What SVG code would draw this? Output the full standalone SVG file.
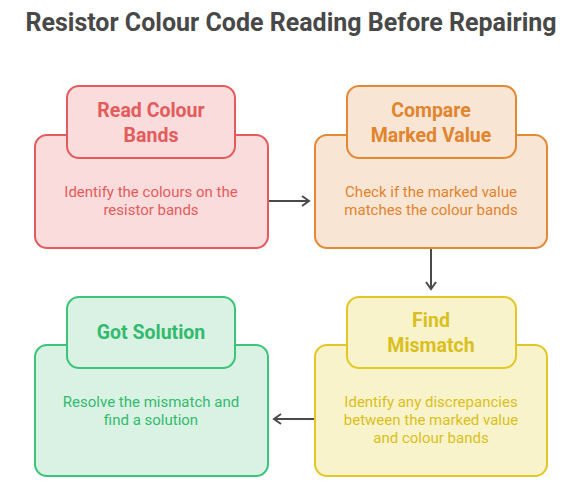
<svg xmlns="http://www.w3.org/2000/svg" width="567" height="486" viewBox="0 0 567 486">
<style>
text{font-family:Roboto,"Liberation Sans",sans-serif;text-anchor:middle}
.title{font-size:25px;font-weight:700;fill:#484848}
.h{font-size:19.5px;font-weight:700}
.b{font-size:15px}
.box{stroke-width:2}
.red .box{fill:#FADCDC;stroke:#E55A5A}
.red text{fill:#E35B5B}
.orange .box{fill:#F9E5D4;stroke:#E38933}
.orange text{fill:#E0842E}
.yellow .box{fill:#F9F3CB;stroke:#E2C826}
.yellow text{fill:#D9C020}
.green .box{fill:#D9F2E3;stroke:#3CC47A}
.green text{fill:#34BA6E}
.conn{fill:none;stroke:#4A4A4A;stroke-width:2}
</style>
<defs>
<marker id="arr" viewBox="0 0 12 12" refX="10" refY="6" markerWidth="12" markerHeight="12" markerUnits="userSpaceOnUse" orient="auto">
<path d="M3,1 L10,6 L3,11" fill="none" stroke="#4A4A4A" stroke-width="2"/>
</marker>
</defs>
<rect width="567" height="486" fill="#FFFFFF"/>
<text class="title" x="291" y="31">Resistor Colour Code Reading Before Repairing</text>
<g id="connectors">
<path class="conn" d="M268,201 H309" marker-end="url(#arr)"/>
<path class="conn" d="M431,248 V289" marker-end="url(#arr)"/>
<path class="conn" d="M315,419 H274" marker-end="url(#arr)"/>
</g>
<g id="read-colour-bands" class="red">
<rect class="box" x="35" y="135" width="233" height="113" rx="12"/>
<rect class="box" x="67" y="86" width="168" height="72" rx="12"/>
<text class="h" x="151" y="117">Read Colour</text>
<text class="h" x="151" y="142">Bands</text>
<text class="b" x="151" y="197">Identify the colours on the</text>
<text class="b" x="151" y="215">resistor bands</text>
</g>
<g id="compare-marked-value" class="orange">
<rect class="box" x="315" y="135" width="232" height="113" rx="12"/>
<rect class="box" x="347" y="86" width="169" height="72" rx="12"/>
<text class="h" x="431" y="117">Compare</text>
<text class="h" x="431" y="142">Marked Value</text>
<text class="b" x="431" y="197">Check if the marked value</text>
<text class="b" x="431" y="215">matches the colour bands</text>
</g>
<g id="find-mismatch" class="yellow">
<rect class="box" x="315" y="345" width="232" height="131" rx="12"/>
<rect class="box" x="347" y="297" width="169" height="71" rx="12"/>
<text class="h" x="431" y="327">Find</text>
<text class="h" x="431" y="352">Mismatch</text>
<text class="b" x="431" y="407">Identify any discrepancies</text>
<text class="b" x="431" y="425">between the marked value</text>
<text class="b" x="431" y="443">and colour bands</text>
</g>
<g id="got-solution" class="green">
<rect class="box" x="35" y="345" width="233" height="131" rx="12"/>
<rect class="box" x="67" y="297" width="168" height="71" rx="12"/>
<text class="h" x="151" y="339">Got Solution</text>
<text class="b" x="151" y="407">Resolve the mismatch and</text>
<text class="b" x="151" y="425">find a solution</text>
</g>
</svg>
